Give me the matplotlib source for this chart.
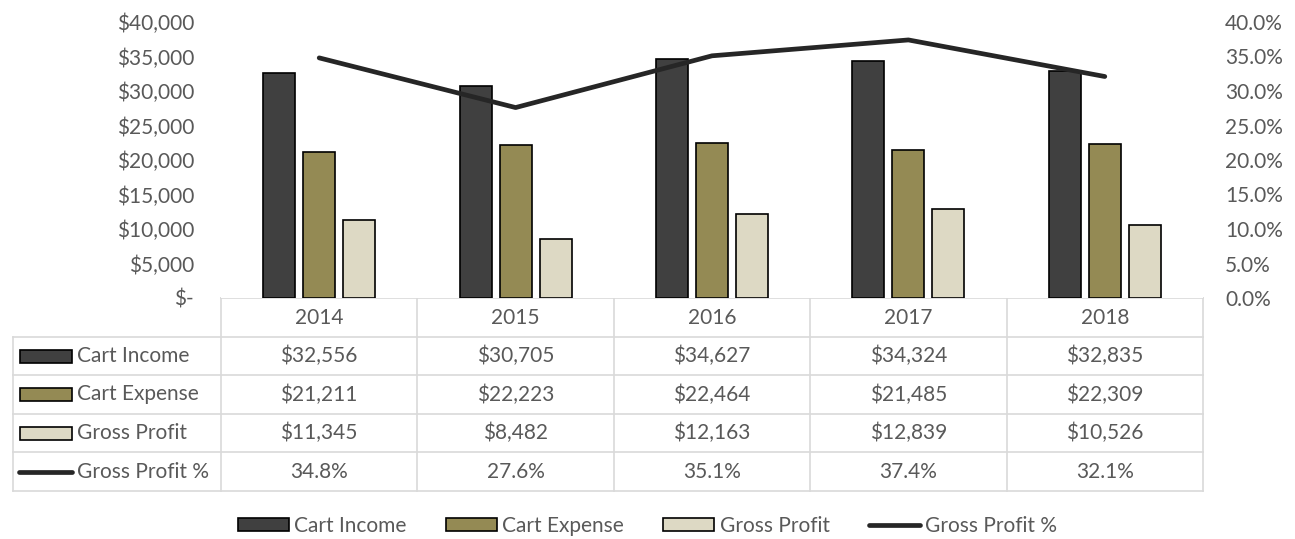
import matplotlib
matplotlib.use('Agg')
import matplotlib.pyplot as plt
from matplotlib.patches import Rectangle, Patch
from matplotlib.lines import Line2D
from matplotlib.ticker import FuncFormatter, MultipleLocator
import numpy as np

plt.rcParams['font.family'] = ['Lato', 'DejaVu Sans']

years = ['2014', '2015', '2016', '2017', '2018']
cart_income = [32556, 30705, 34627, 34324, 32835]
cart_expense = [21211, 22223, 22464, 21485, 22309]
gross_profit = [11345, 8482, 12163, 12839, 10526]
gross_profit_pct = [34.8, 27.6, 35.1, 37.4, 32.1]

series_names = ['Cart Income', 'Cart Expense', 'Gross Profit', 'Gross Profit %']
bar_colors = ['#404040', '#948A54', '#DDD9C4']
line_color = '#262626'
text_color = '#595959'
grid_color = '#D9D9D9'
fs = 15

W, H = 1295, 539
fig = plt.figure(figsize=(W / 100, H / 100), dpi=100)

# plot area in pixels
px_l, px_r, px_t, px_b = 221, 1203, 22, 298
ax = fig.add_axes([px_l / W, 1 - px_b / H, (px_r - px_l) / W, (px_b - px_t) / H])
ax2 = ax.twinx()

x = np.arange(len(years))
bw = 0.163
step = 0.204
for i, (vals, c) in enumerate(zip([cart_income, cart_expense, gross_profit], bar_colors)):
    ax.bar(x + (i - 1) * step, vals, width=bw, color=c, edgecolor='black', linewidth=1.2, zorder=2)

ax2.plot(x, gross_profit_pct, color=line_color, lw=3.4, solid_capstyle='round', zorder=3)

ax.set_xlim(-0.5, len(years) - 0.5)
ax.set_ylim(0, 40000)
ax2.set_ylim(0, 40)
ax.yaxis.set_major_locator(MultipleLocator(5000))
ax2.yaxis.set_major_locator(MultipleLocator(5))
ax.yaxis.set_major_formatter(FuncFormatter(lambda v, p: '$-' if v == 0 else f'${v:,.0f}'))
ax2.yaxis.set_major_formatter(FuncFormatter(lambda v, p: f'{v:.1f}%'))
ax.set_xticks([])
for a in (ax, ax2):
    for s in a.spines.values():
        s.set_visible(False)
    a.tick_params(axis='y', length=0, labelsize=fs, labelcolor=text_color)
ax.tick_params(axis='y', pad=19.5)
ax2.tick_params(axis='y', pad=16)
ax.set_zorder(1)
ax2.set_zorder(2)
ax2.patch.set_visible(False)

# data table below the plot
tab = fig.add_axes([0, 0, 1, 1])
tab.set_xlim(0, W)
tab.set_ylim(H, 0)
tab.axis('off')
tab.patch.set_visible(False)

row_y = [298, 337, 375, 414, 452, 491]
col_x = np.linspace(px_l, px_r, len(years) + 1)
left_x = 13
lkw = dict(color=grid_color, lw=1.2, zorder=1)
tab.plot([px_l, px_r], [row_y[0], row_y[0]], **lkw)
for yy in row_y[1:]:
    tab.plot([left_x, px_r], [yy, yy], **lkw)
tab.plot([left_x, left_x], [row_y[1], row_y[-1]], **lkw)
for xx in col_x:
    tab.plot([xx, xx], [row_y[0], row_y[-1]], **lkw)

centers = (col_x[:-1] + col_x[1:]) / 2
for j, yr in enumerate(years):
    tab.text(centers[j], (row_y[0] + row_y[1]) / 2, yr, ha='center', va='center',
             fontsize=fs, color=text_color)

rows = [
    [f'${v:,}' for v in cart_income],
    [f'${v:,}' for v in cart_expense],
    [f'${v:,}' for v in gross_profit],
    [f'{v:.1f}%' for v in gross_profit_pct],
]
for r, labels in enumerate(rows):
    yc = (row_y[r + 1] + row_y[r + 2]) / 2
    if r < 3:
        tab.add_patch(Rectangle((20, yc - 6.5), 52, 13, facecolor=bar_colors[r],
                                edgecolor='black', lw=1.2, zorder=2))
    else:
        tab.plot([19, 72], [yc, yc], color=line_color, lw=3.4, solid_capstyle='round')
    tab.text(77, yc, series_names[r], ha='left', va='center', fontsize=fs, color=text_color)
    for j, lab in enumerate(labels):
        tab.text(centers[j], yc, lab, ha='center', va='center', fontsize=fs, color=text_color)

handles = [Patch(facecolor=c, edgecolor='black', lw=1.2) for c in bar_colors]
handles.append(Line2D([0], [0], color=line_color, lw=3.4, solid_capstyle='round'))
fig.legend(handles, series_names, loc='center', bbox_to_anchor=(0.5, 1 - 526 / H), ncol=4,
           frameon=False, fontsize=fs, labelcolor=text_color, handlelength=2.45,
           handleheight=0.6, handletextpad=0.25, columnspacing=1.9)

fig.savefig('out.png', dpi=100)
